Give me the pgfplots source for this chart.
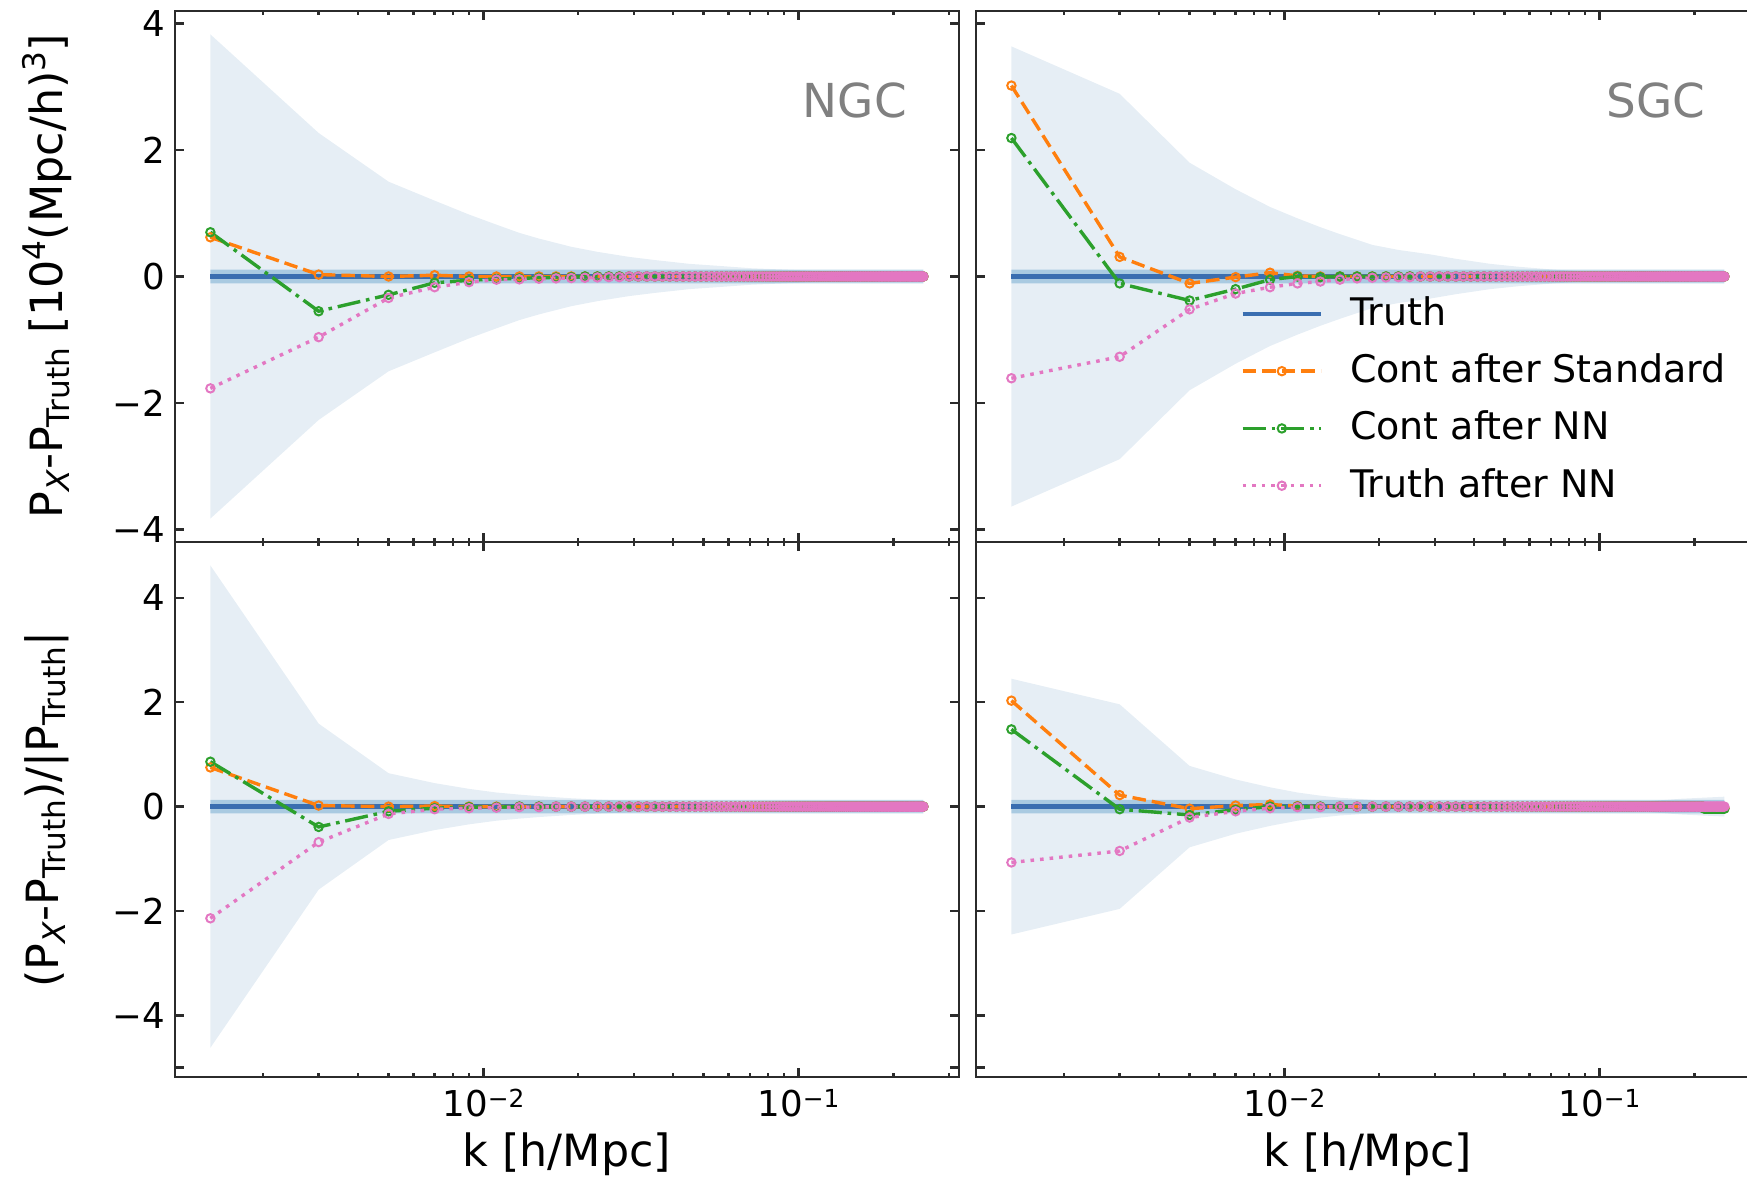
\documentclass[border=0pt]{standalone}
\usepackage{fontspec}
\setmainfont{DejaVu Sans}
\usepackage{pgfplots}
\pgfplotsset{compat=1.18}
\usepackage{pgfplotstable}

\definecolor{tabblue}{HTML}{1F77B4}
\definecolor{truthblue}{HTML}{3A6EB0}
\definecolor{taborange}{HTML}{FF7F0E}
\definecolor{tabgreen}{HTML}{2CA02C}
\definecolor{tabpink}{HTML}{E377C2}
\definecolor{bandfill}{RGB}{230,238,245}
\definecolor{spine}{HTML}{2B2B2B}
\definecolor{tagtext}{RGB}{128,128,128}

% small raised / lowered text for labels and tick labels
\newcommand{\lsub}[1]{\raisebox{-1.7pt}{\fontsize{7.8}{9}\selectfont #1}}
\newcommand{\lsup}[1]{\raisebox{4.2pt}{\fontsize{7.8}{9}\selectfont #1}}
\newcommand{\tsup}[1]{\raisebox{2.3pt}{\fontsize{6.2}{7}\selectfont #1}}

% Residuals: N = NGC, S = SGC (upper row: absolute, lower row: relative)
% s = Cont after Standard, n = Cont after NN, t = Truth after NN
\pgfplotstableread{
k Ns Nn Nt Ss Sn St ns nn nt ss sn st
0.00136 0.62 0.70 -1.77 3.02 2.19 -1.61 0.75 0.86 -2.14 2.03 1.48 -1.07
0.003 0.03 -0.55 -0.96 0.31 -0.11 -1.27 0.02 -0.39 -0.68 0.22 -0.05 -0.85
0.005 0.00 -0.29 -0.34 -0.11 -0.38 -0.52 0.00 -0.09 -0.14 -0.04 -0.16 -0.21
0.007 0.02 -0.10 -0.17 -0.01 -0.20 -0.27 0.01 -0.03 -0.05 0.02 -0.06 -0.09
0.009 0.00 -0.06 -0.09 0.06 -0.05 -0.17 0.00 -0.01 -0.03 0.04 0.00 -0.03
0.011 0.00 -0.04 -0.05 0.01 0.00 -0.11 0.00 -0.01 -0.02 0.01 0.00 -0.01
0.013 0.00 -0.03 -0.045 0.00 -0.01 -0.08 0.00 0.00 -0.01 0.00 0.00 -0.01
0.015 0.00 -0.02 -0.035 0.00 0.00 -0.05 0 0 -0.01 0 0 0
0.017 0.00 -0.015 -0.03 0 0 -0.03 0 0 0 0 0 0
0.019 0 -0.01 -0.025 0 0 -0.02 0 0 0 0 0 0
0.021 0 0 -0.02 0 0 -0.015 0 0 0 0 0 0
0.023 0 0 -0.015 0 0 -0.01 0 0 0 0 0 0
0.025 0 0 -0.01 0 0 -0.01 0 0 0 0 0 0
0.027 0 0 -0.01 0 0 0 0 0 0 0 0 0
0.029 0 0 0 0 0 0 0 0 0 0 0 0
0.031 0 0 0 0 0 0 0 0 0 0 0 0
0.033 0 0 0 0 0 0 0 0 0 0 0 0
0.035 0 0 0 0 0 0 0 0 0 0 0 0
0.037 0 0 0 0 0 0 0 0 0 0 0 0
0.039 0 0 0 0 0 0 0 0 0 0 0 0
0.041 0 0 0 0 0 0 0 0 0 0 0 0
0.043 0 0 0 0 0 0 0 0 0 0 0 0
0.045 0 0 0 0 0 0 0 0 0 0 0 0
0.047 0 0 0 0 0 0 0 0 0 0 0 0
0.049 0 0 0 0 0 0 0 0 0 0 0 0
0.051 0 0 0 0 0 0 0 0 0 0 0 0
0.053 0 0 0 0 0 0 0 0 0 0 0 0
0.055 0 0 0 0 0 0 0 0 0 0 0 0
0.057 0 0 0 0 0 0 0 0 0 0 0 0
0.059 0 0 0 0 0 0 0 0 0 0 0 0
0.061 0 0 0 0 0 0 0 0 0 0 0 0
0.063 0 0 0 0 0 0 0 0 0 0 0 0
0.065 0 0 0 0 0 0 0 0 0 0 0 0
0.067 0 0 0 0 0 0 0 0 0 0 0 0
0.069 0 0 0 0 0 0 0 0 0 0 0 0
0.071 0 0 0 0 0 0 0 0 0 0 0 0
0.073 0 0 0 0 0 0 0 0 0 0 0 0
0.075 0 0 0 0 0 0 0 0 0 0 0 0
0.077 0 0 0 0 0 0 0 0 0 0 0 0
0.079 0 0 0 0 0 0 0 0 0 0 0 0
0.081 0 0 0 0 0 0 0 0 0 0 0 0
0.083 0 0 0 0 0 0 0 0 0 0 0 0
0.085 0 0 0 0 0 0 0 0 0 0 0 0
0.087 0 0 0 0 0 0 0 0 0 0 0 0
0.089 0 0 0 0 0 0 0 0 0 0 0 0
0.091 0 0 0 0 0 0 0 0 0 0 0 0
0.093 0 0 0 0 0 0 0 0 0 0 0 0
0.095 0 0 0 0 0 0 0 0 0 0 0 0
0.097 0 0 0 0 0 0 0 0 0 0 0 0
0.099 0 0 0 0 0 0 0 0 0 0 0 0
0.101 0 0 0 0 0 0 0 0 0 0 0 0
0.103 0 0 0 0 0 0 0 0 0 0 0 0
0.105 0 0 0 0 0 0 0 0 0 0 0 0
0.107 0 0 0 0 0 0 0 0 0 0 0 0
0.109 0 0 0 0 0 0 0 0 0 0 0 0
0.111 0 0 0 0 0 0 0 0 0 0 0 0
0.113 0 0 0 0 0 0 0 0 0 0 0 0
0.115 0 0 0 0 0 0 0 0 0 0 0 0
0.117 0 0 0 0 0 0 0 0 0 0 0 0
0.119 0 0 0 0 0 0 0 0 0 0 0 0
0.121 0 0 0 0 0 0 0 0 0 0 0 0
0.123 0 0 0 0 0 0 0 0 0 0 0 0
0.125 0 0 0 0 0 0 0 0 0 0 0 0
0.127 0 0 0 0 0 0 0 0 0 0 0 0
0.129 0 0 0 0 0 0 0 0 0 0 0 0
0.131 0 0 0 0 0 0 0 0 0 0 0 0
0.133 0 0 0 0 0 0 0 0 0 0 0 0
0.135 0 0 0 0 0 0 0 0 0 0 0 0
0.137 0 0 0 0 0 0 0 0 0 0 0 0
0.139 0 0 0 0 0 0 0 0 0 0 0 0
0.141 0 0 0 0 0 0 0 0 0 0 0 0
0.143 0 0 0 0 0 0 0 0 0 0 0 0
0.145 0 0 0 0 0 0 0 0 0 0 0 0
0.147 0 0 0 0 0 0 0 0 0 0 0 0
0.149 0 0 0 0 0 0 0 0 0 0 0 0
0.151 0 0 0 0 0 0 0 0 0 0 0 0
0.153 0 0 0 0 0 0 0 0 0 0 0 0
0.155 0 0 0 0 0 0 0 0 0 0 0 0
0.157 0 0 0 0 0 0 0 0 0 0 0 0
0.159 0 0 0 0 0 0 0 0 0 0 0 0
0.161 0 0 0 0 0 0 0 0 0 0 0 0
0.163 0 0 0 0 0 0 0 0 0 0 0 0
0.165 0 0 0 0 0 0 0 0 0 0 0 0
0.167 0 0 0 0 0 0 0 0 0 0 0 0
0.169 0 0 0 0 0 0 0 0 0 0 0 0
0.171 0 0 0 0 0 0 0 0 0 0 0 0
0.173 0 0 0 0 0 0 0 0 0 0 0 0
0.175 0 0 0 0 0 0 0 0 0 0 0 0
0.177 0 0 0 0 0 0 0 0 0 0 0 0
0.179 0 0 0 0 0 0 0 0 0 0 0 0
0.181 0 0 0 0 0 0 0 0 0 0 0 0
0.183 0 0 0 0 0 0 0 0 0 0 0 0
0.185 0 0 0 0 0 0 0 0 0 0 0 0
0.187 0 0 0 0 0 0 0 0 0 0 0 0
0.189 0 0 0 0 0 0 0 0 0 0 0 0
0.191 0 0 0 0 0 0 0 0 0 0 0 0
0.193 0 0 0 0 0 0 0 0 0 0 0 0
0.195 0 0 0 0 0 0 0 0 0 0 0 0
0.197 0 0 0 0 0 0 0 0 0 0 0 0
0.199 0 0 0 0 0 0 0 0 0 0 0 0
0.201 0 0 0 0 0 0 0 0 0 0 0 0
0.203 0 0 0 0 0 0 0 0 0 0 0 0
0.205 0 0 0 0 0 0 0 0 0 0 0 0
0.207 0 0 0 0 0 0 0 0 0 0 0 0
0.209 0 0 0 0 0 0 0 0 0 0 0 0
0.211 0 0 0 0 0 0 0 0 0 0 0 0
0.213 0 0 0 0 0 0 0 0 0 0 0 0
0.215 0 0 0 0 0 0 0 0 0 -0.03 -0.04 0
0.217 0 0 0 0 0 0 0 0 0 -0.03 -0.04 0
0.219 0 0 0 0 0 0 0 0 0 -0.03 -0.04 0
0.221 0 0 0 0 0 0 0 0 0 -0.03 -0.04 0
0.223 0 0 0 0 0 0 0 0 0 -0.03 -0.04 0
0.225 0 0 0 0 0 0 0 0 0 -0.03 -0.04 0
0.227 0 0 0 0 0 0 0 0 0 -0.03 -0.04 0
0.229 0 0 0 0 0 0 0 0 0 -0.03 -0.04 0
0.231 0 0 0 0 0 0 0 0 0 -0.03 -0.04 0
0.233 0 0 0 0 0 0 0 0 0 -0.03 -0.04 0
0.235 0 0 0 0 0 0 0 0 0 -0.03 -0.04 0
0.237 0 0 0 0 0 0 0 0 0 -0.03 -0.04 0
0.239 0 0 0 0 0 0 0 0 0 -0.03 -0.04 0
0.241 0 0 0 0 0 0 0 0 0 -0.03 -0.04 0
0.243 0 0 0 0 0 0 0 0 0 -0.03 -0.04 0
0.245 0 0 0 0 0 0 0 0 0 -0.03 -0.04 0
0.247 0 0 0 0 0 0 0 0 0 -0.03 -0.04 0
0.249 0 0 0 0 0 0 0 0 0 -0.03 -0.04 0
}\resid

% Outline of the scatter band of the truth mocks:
% upper edge left to right, then lower edge right to left
\pgfplotstableread{
k Nb Sb nb sb
0.00136 3.83 3.64 4.62 2.45
0.003 2.27 2.89 1.59 1.96
0.005 1.50 1.80 0.64 0.78
0.007 1.20 1.38 0.45 0.52
0.009 0.98 1.10 0.34 0.37
0.011 0.82 0.92 0.27 0.27
0.013 0.69 0.78 0.23 0.21
0.015 0.60 0.67 0.20 0.17
0.019 0.47 0.50 0.16 0.13
0.023 0.39 0.42 0.135 0.10
0.029 0.31 0.35 0.11 0.08
0.035 0.26 0.28 0.095 0.07
0.045 0.20 0.20 0.08 0.06
0.055 0.17 0.155 0.07 0.05
0.071 0.13 0.11 0.06 0.05
0.089 0.11 0.08 0.055 0.05
0.111 0.09 0.065 0.05 0.06
0.141 0.075 0.055 0.05 0.10
0.181 0.065 0.05 0.05 0.15
0.249 0.055 0.045 0.05 0.19
0.249 -0.055 -0.045 -0.05 -0.19
0.181 -0.065 -0.05 -0.05 -0.15
0.141 -0.075 -0.055 -0.05 -0.10
0.111 -0.09 -0.065 -0.05 -0.06
0.089 -0.11 -0.08 -0.055 -0.05
0.071 -0.13 -0.11 -0.06 -0.05
0.055 -0.17 -0.155 -0.07 -0.05
0.045 -0.20 -0.20 -0.08 -0.06
0.035 -0.26 -0.28 -0.095 -0.07
0.029 -0.31 -0.35 -0.11 -0.08
0.023 -0.39 -0.42 -0.135 -0.10
0.019 -0.47 -0.50 -0.16 -0.13
0.015 -0.60 -0.67 -0.20 -0.17
0.013 -0.69 -0.78 -0.23 -0.21
0.011 -0.82 -0.92 -0.27 -0.27
0.009 -0.98 -1.10 -0.34 -0.37
0.007 -1.20 -1.38 -0.45 -0.52
0.005 -1.50 -1.80 -0.64 -0.78
0.003 -2.27 -2.89 -1.59 -1.96
0.00136 -3.83 -3.64 -4.62 -2.45
}\band

% common look of the four panels
\pgfplotsset{
  every axis/.append style={
    scale only axis, width=196pt,
    xmin=1.05e-3, xmax=0.323,
    axis line style={spine, line width=0.7pt},
    tick align=inside, xtick pos=both, ytick pos=both,
    major tick length=2.2pt, minor tick length=1.1pt,
    xtick={0.01,0.1},
    minor xtick={0.002,0.003,0.004,0.005,0.006,0.007,0.008,0.009,0.02,0.03,0.04,0.05,0.06,0.07,0.08,0.09,0.2,0.3},
    xticklabels={{10\tsup{−2}},{10\tsup{−1}}},
    ytick={-4,-2,0,2,4},
    yticklabels={−4,−2,0,2,4},
    tick label style={font=\fontsize{8.9}{10}\selectfont},
    xticklabel style={yshift=0.5pt},
    yticklabel style={xshift=1pt},
    every tick/.append style={spine, line width=0.6pt},
  },
  every axis label/.append style={font=\fontsize{11.1}{13}\selectfont},
  every axis y label/.append style={at={(axis description cs:-0.163,0.5)}, anchor=center},
  every axis x label/.append style={at={(axis description cs:0.5,-0.1435)}, anchor=center},
}

\begin{document}
\begin{tikzpicture}
\useasboundingbox (0,0) rectangle (436.75pt,294.25pt);

% NGC, absolute residual
\begin{axis}[xmode=log, height=132.75pt, ymin=-4.2, ymax=4.2, xticklabels={},
  anchor=south west, at={(43.75pt,158.75pt)},
  ylabel={P\lsub{\textit{X}}-P\lsub{Truth} [10\lsup{4}(Mpc/h)\lsup{3}]}]
  \addplot[draw=none, fill=bandfill, forget plot] table[x=k, y=Nb] {\band};
  \addplot[draw=none, fill=tabblue, fill opacity=0.3, forget plot]
    coordinates {(0.00136,-0.11) (0.249,-0.11) (0.249,0.11) (0.00136,0.11) (0.00136,-0.11)};
  \addplot[truthblue, line width=1.1pt] coordinates {(0.00136,0) (0.249,0)};
  \addplot[taborange, line width=0.85pt, dash pattern=on 3.4pt off 1.5pt,
    mark=o, mark size=1.05pt, mark options={solid, fill=white, line width=0.5pt}]
    table[x=k, y=Ns] {\resid};
  \addplot[tabgreen, line width=0.85pt, dash pattern=on 5.8pt off 1.45pt on 0.9pt off 1.45pt,
    mark=o, mark size=1.05pt, mark options={solid, fill=white, line width=0.5pt}]
    table[x=k, y=Nn] {\resid};
  \addplot[tabpink, line width=0.85pt, dash pattern=on 0.9pt off 1.5pt,
    mark=o, mark size=1.05pt, mark options={solid, fill=white, line width=0.5pt}]
    table[x=k, y=Nt] {\resid};
  \node[text=tagtext, font=\fontsize{11.7}{14}\selectfont] at (rel axis cs:0.867,0.832) {NGC};
\end{axis}

% SGC, absolute residual
\begin{axis}[xmode=log, height=132.75pt, ymin=-4.2, ymax=4.2, xticklabels={}, yticklabels={},
  anchor=south west, at={(244pt,158.75pt)},
  legend style={at={(0.321,0.494)}, anchor=north west, draw=none, fill=none,
    font=\fontsize{9.5}{11}\selectfont, row sep=1.6pt, column sep=4.7pt},
  legend cell align=left,
  legend image code/.code={%
    \draw[mark repeat=2,mark phase=2,#1] plot coordinates {(0pt,0pt) (9.8pt,0pt) (19.6pt,0pt)};}]
  \addplot[draw=none, fill=bandfill, forget plot] table[x=k, y=Sb] {\band};
  \addplot[draw=none, fill=tabblue, fill opacity=0.3, forget plot]
    coordinates {(0.00136,-0.11) (0.249,-0.11) (0.249,0.11) (0.00136,0.11) (0.00136,-0.11)};
  \addplot[truthblue, line width=1.1pt] coordinates {(0.00136,0) (0.249,0)};
  \addplot[taborange, line width=0.85pt, dash pattern=on 3.4pt off 1.5pt,
    mark=o, mark size=1.05pt, mark options={solid, fill=white, line width=0.5pt}]
    table[x=k, y=Ss] {\resid};
  \addplot[tabgreen, line width=0.85pt, dash pattern=on 5.8pt off 1.45pt on 0.9pt off 1.45pt,
    mark=o, mark size=1.05pt, mark options={solid, fill=white, line width=0.5pt}]
    table[x=k, y=Sn] {\resid};
  \addplot[tabpink, line width=0.85pt, dash pattern=on 0.9pt off 1.5pt,
    mark=o, mark size=1.05pt, mark options={solid, fill=white, line width=0.5pt}]
    table[x=k, y=St] {\resid};
  \node[text=tagtext, font=\fontsize{11.7}{14}\selectfont] at (rel axis cs:0.867,0.832) {SGC};
  \legend{Truth, Cont after Standard, Cont after NN, Truth after NN}
\end{axis}

% NGC, relative residual
\begin{axis}[xmode=log, height=133.75pt, ymin=-5.18, ymax=5.07,
  extra y ticks={-5}, extra y tick labels={},
  anchor=south west, at={(43.75pt,25pt)},
  xlabel={k [h/Mpc]},
  ylabel={(P\lsub{\textit{X}}-P\lsub{Truth})/|P\lsub{Truth}|}]
  \addplot[draw=none, fill=bandfill, forget plot] table[x=k, y=nb] {\band};
  \addplot[draw=none, fill=tabblue, fill opacity=0.3, forget plot]
    coordinates {(0.00136,-0.13) (0.249,-0.13) (0.249,0.13) (0.00136,0.13) (0.00136,-0.13)};
  \addplot[truthblue, line width=1.1pt] coordinates {(0.00136,0) (0.249,0)};
  \addplot[taborange, line width=0.85pt, dash pattern=on 3.4pt off 1.5pt,
    mark=o, mark size=1.05pt, mark options={solid, fill=white, line width=0.5pt}]
    table[x=k, y=ns] {\resid};
  \addplot[tabgreen, line width=0.85pt, dash pattern=on 5.8pt off 1.45pt on 0.9pt off 1.45pt,
    mark=o, mark size=1.05pt, mark options={solid, fill=white, line width=0.5pt}]
    table[x=k, y=nn] {\resid};
  \addplot[tabpink, line width=0.85pt, dash pattern=on 0.9pt off 1.5pt,
    mark=o, mark size=1.05pt, mark options={solid, fill=white, line width=0.5pt}]
    table[x=k, y=nt] {\resid};
\end{axis}

% SGC, relative residual
\begin{axis}[xmode=log, height=133.75pt, ymin=-5.18, ymax=5.07, yticklabels={},
  extra y ticks={-5}, extra y tick labels={},
  anchor=south west, at={(244pt,25pt)},
  xlabel={k [h/Mpc]}]
  \addplot[draw=none, fill=bandfill, forget plot] table[x=k, y=sb] {\band};
  \addplot[draw=none, fill=tabblue, fill opacity=0.3, forget plot]
    coordinates {(0.00136,-0.13) (0.249,-0.13) (0.249,0.13) (0.00136,0.13) (0.00136,-0.13)};
  \addplot[truthblue, line width=1.1pt] coordinates {(0.00136,0) (0.249,0)};
  \addplot[taborange, line width=0.85pt, dash pattern=on 3.4pt off 1.5pt,
    mark=o, mark size=1.05pt, mark options={solid, fill=white, line width=0.5pt}]
    table[x=k, y=ss] {\resid};
  \addplot[tabgreen, line width=0.85pt, dash pattern=on 5.8pt off 1.45pt on 0.9pt off 1.45pt,
    mark=o, mark size=1.05pt, mark options={solid, fill=white, line width=0.5pt}]
    table[x=k, y=sn] {\resid};
  \addplot[tabpink, line width=0.85pt, dash pattern=on 0.9pt off 1.5pt,
    mark=o, mark size=1.05pt, mark options={solid, fill=white, line width=0.5pt}]
    table[x=k, y=st] {\resid};
\end{axis}
\end{tikzpicture}
\end{document}
